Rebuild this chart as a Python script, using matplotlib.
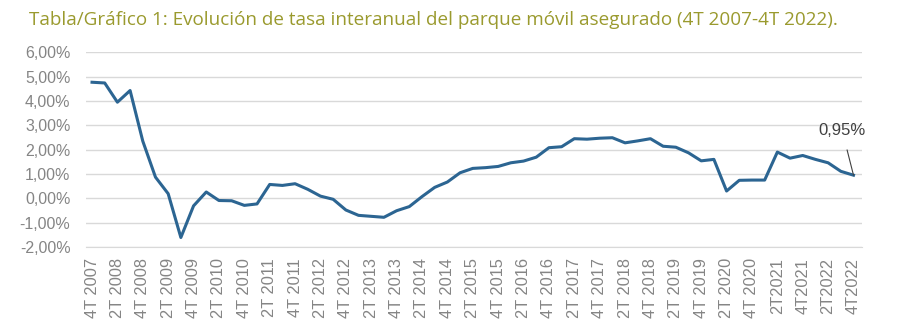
import matplotlib
matplotlib.use("Agg")
import matplotlib.pyplot as plt

# tasa interanual del parque móvil asegurado, trimestral 4T 2007 - 4T 2022 (%)
tasa = [4.77, 4.74, 3.95, 4.43, 2.35, 0.87, 0.19, -1.61, -0.31, 0.26,
        -0.09, -0.10, -0.29, -0.23, 0.57, 0.53, 0.60, 0.37, 0.09, -0.04,
        -0.48, -0.70, -0.74, -0.78, -0.51, -0.34, 0.07, 0.45, 0.67, 1.05,
        1.23, 1.26, 1.31, 1.46, 1.53, 1.69, 2.08, 2.12, 2.45, 2.43,
        2.47, 2.49, 2.28, 2.36, 2.45, 2.14, 2.10, 1.87, 1.54, 1.60,
        0.30, 0.74, 0.75, 0.75, 1.90, 1.65, 1.76, 1.60, 1.46, 1.11,
        0.95]

etiquetas = ["4T 2007", "2T 2008", "4T 2008", "2T 2009", "4T 2009", "2T 2010",
             "4T 2010", "2T 2011", "4T 2011", "2T 2012", "4T 2012", "2T 2013",
             "4T 2013", "2T 2014", "4T 2014", "2T 2015", "4T 2015", "2T 2016",
             "4T 2016", "2T 2017", "4T 2017", "2T 2018", "4T 2018", "2T 2019",
             "4T 2019", "2T 2020", "4T 2020", "2T2021", "4T2021", "2T2022",
             "4T2022"]

ultimo = "0,95%"

fig = plt.figure(figsize=(9, 3.34), dpi=100)
ax = fig.add_axes([0.0952, 0.2605, 0.863, 0.5829])

x = list(range(len(tasa)))
ax.plot(x, tasa, color="#2c6592", linewidth=2.2, solid_joinstyle="round")

ax.set_xlim(-0.5, 60.7)
ax.set_ylim(-2, 6)
ax.set_yticks(range(-2, 7))
ax.set_yticklabels(["{:.2f}%".format(v).replace(".", ",") for v in range(-2, 7)])
ax.set_xticks(range(0, len(tasa), 2))
ax.set_xticklabels(etiquetas, rotation=90)

ax.grid(axis="y", color="#d9d9d9", linewidth=1)
ax.set_axisbelow(True)
for s in ["top", "right", "left"]:
    ax.spines[s].set_visible(False)
ax.spines["bottom"].set_color("#d9d9d9")

ax.tick_params(axis="y", length=0, pad=11, labelsize=11.5, labelcolor="#858585")
ax.tick_params(axis="x", length=0, pad=8, labelsize=11.8, labelcolor="#858585")
for t in ax.get_xticklabels() + ax.get_yticklabels():
    t.set_fontfamily("Liberation Sans")

# etiqueta del último dato
ax.annotate(ultimo, xy=(60, tasa[-1]), xytext=(59.1, 2.8),
            ha="center", va="center", fontsize=12, color="#404040",
            family="Liberation Sans",
            arrowprops=dict(arrowstyle="-", color="#404040", lw=0.8,
                            shrinkA=7, shrinkB=0))

fig.text(0.482, 0.94,
         "Tabla/Gráfico 1: Evolución de tasa interanual del parque móvil asegurado (4T 2007-4T 2022).",
         ha="center", va="center", fontsize=13.6, color="#9a9a2e",
         family="Open Sans")

fig.savefig("out.png", dpi=100)
